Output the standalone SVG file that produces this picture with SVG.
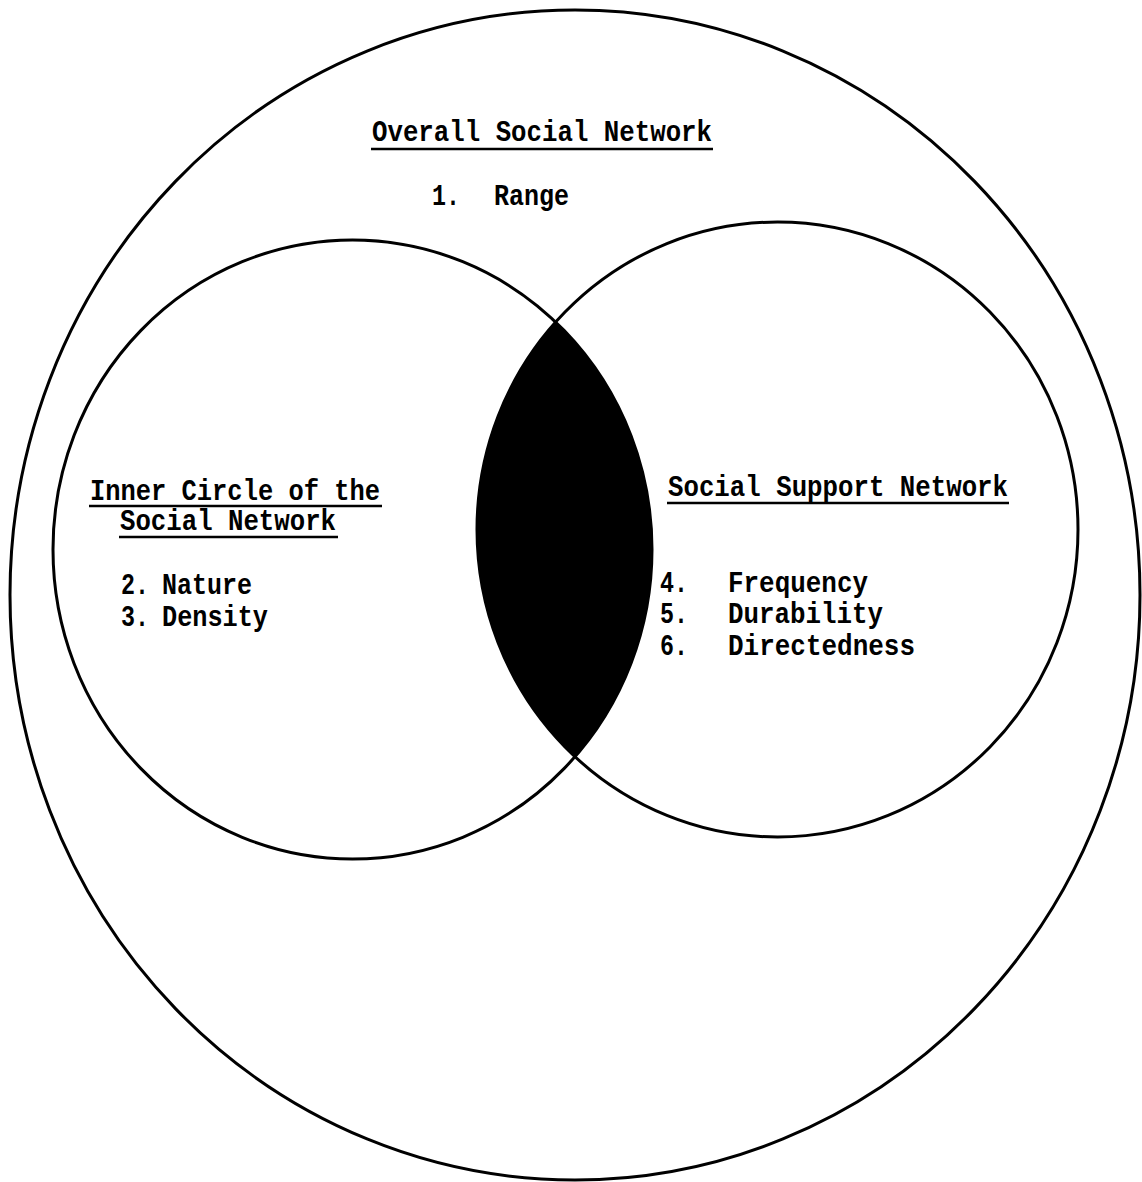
<svg xmlns="http://www.w3.org/2000/svg" width="1142" height="1182" viewBox="0 0 1142 1182">
  <style>
    .ring { fill: none; stroke: #000; stroke-width: 3; }
    .lbl { font-family: "Liberation Mono", "Courier New", monospace; font-size: 29px; font-weight: bold; fill: #000; }
    .ul { stroke: #000; stroke-width: 2.5; }
  </style>
  <defs>
    <clipPath id="rightClip">
      <ellipse cx="777.5" cy="529.5" rx="300.5" ry="307.5"/>
    </clipPath>
  </defs>
  <rect width="1142" height="1182" fill="#fff"/>

  <g id="overall-social-network">
    <ellipse class="ring" cx="575" cy="595" rx="565" ry="585"/>
    <text class="lbl" x="372" y="141" textLength="340" lengthAdjust="spacingAndGlyphs">Overall Social Network</text>
    <line class="ul" x1="371" y1="149" x2="713" y2="149"/>
    <text class="lbl" x="432" y="205" textLength="28" lengthAdjust="spacingAndGlyphs">1.</text>
    <text class="lbl" x="494" y="205" textLength="75" lengthAdjust="spacingAndGlyphs">Range</text>
  </g>

  <g id="overlap">
    <ellipse cx="352.5" cy="549.5" rx="299.5" ry="309.5" fill="#000" clip-path="url(#rightClip)"/>
  </g>

  <g id="inner-circle">
    <ellipse class="ring" cx="352.5" cy="549.5" rx="299.5" ry="309.5"/>
    <text class="lbl" x="90" y="500" textLength="290" lengthAdjust="spacingAndGlyphs">Inner Circle of the</text>
    <line class="ul" x1="89" y1="506" x2="382" y2="506"/>
    <text class="lbl" x="120" y="530" textLength="216" lengthAdjust="spacingAndGlyphs">Social Network</text>
    <line class="ul" x1="119" y1="537" x2="338" y2="537"/>
    <text class="lbl" x="121" y="594" textLength="28" lengthAdjust="spacingAndGlyphs">2.</text>
    <text class="lbl" x="162" y="594" textLength="90" lengthAdjust="spacingAndGlyphs">Nature</text>
    <text class="lbl" x="121" y="626" textLength="28" lengthAdjust="spacingAndGlyphs">3.</text>
    <text class="lbl" x="162" y="626" textLength="106" lengthAdjust="spacingAndGlyphs">Density</text>
  </g>

  <g id="social-support-network">
    <ellipse class="ring" cx="777.5" cy="529.5" rx="300.5" ry="307.5"/>
    <text class="lbl" x="668" y="496" textLength="340" lengthAdjust="spacingAndGlyphs">Social Support Network</text>
    <line class="ul" x1="667" y1="503" x2="1009" y2="503"/>
    <text class="lbl" x="660" y="592" textLength="28" lengthAdjust="spacingAndGlyphs">4.</text>
    <text class="lbl" x="728" y="592" textLength="140" lengthAdjust="spacingAndGlyphs">Frequency</text>
    <text class="lbl" x="660" y="623" textLength="28" lengthAdjust="spacingAndGlyphs">5.</text>
    <text class="lbl" x="728" y="623" textLength="155" lengthAdjust="spacingAndGlyphs">Durability</text>
    <text class="lbl" x="660" y="655" textLength="28" lengthAdjust="spacingAndGlyphs">6.</text>
    <text class="lbl" x="728" y="655" textLength="187" lengthAdjust="spacingAndGlyphs">Directedness</text>
  </g>

  <g id="connectors"></g>
</svg>
